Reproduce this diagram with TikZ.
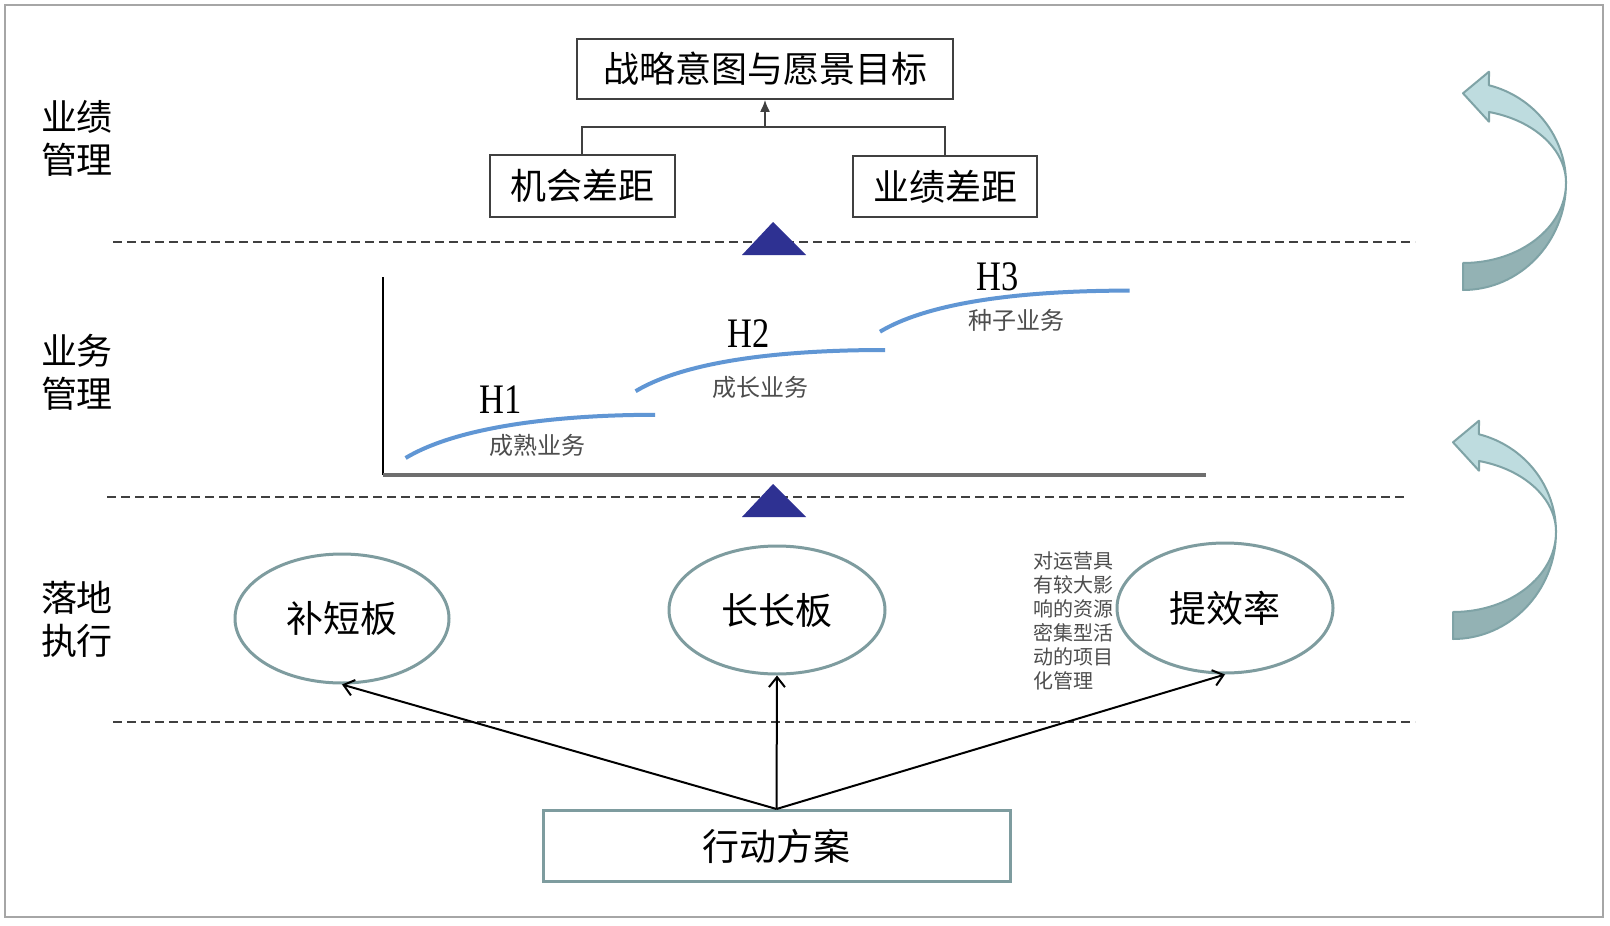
\documentclass[tikz,border=0pt]{standalone}
\usepackage{fontspec}
\setmainfont{Noto Sans CJK SC}
\newfontfamily\hfont[FakeStretch=0.82]{Liberation Serif}
\usetikzlibrary{shapes.geometric,arrows.meta}
\definecolor{framegray}{HTML}{A6A6A6}
\definecolor{ovalc}{HTML}{7E9C9F}
\definecolor{navytri}{HTML}{2E3192}
\definecolor{curveblue}{HTML}{6096D4}
\definecolor{lightarr}{HTML}{BEDCDF}
\definecolor{darkarr}{HTML}{93B2B4}
\definecolor{arrline}{HTML}{7FA3A6}
\definecolor{subgray}{HTML}{4D4D4D}
\definecolor{boxline}{HTML}{404040}
\definecolor{axisgray}{HTML}{6E6E6E}
\tikzset{
  bendarrow/.pic={
    \filldraw[fill=darkarr, draw=arrline, line width=2pt, line join=round]
      (0,107) arc[start angle=-90, end angle=0, x radius=103pt, y radius=107pt]
      arc[start angle=0, end angle=-90, x radius=103pt, y radius=80pt] -- cycle;
    \filldraw[fill=lightarr, draw=arrline, line width=2pt, line join=round]
      (103,0) arc[start angle=0, end angle=75.4, x radius=103pt, y radius=101pt]
      -- (26,-111.3) -- (0,-89.7) -- (26,-61.3) -- (26,-71)
      arc[start angle=75.4, end angle=0, x radius=103pt, y radius=73.4pt] -- cycle;
  }
}
\begin{document}
\begin{tikzpicture}[x=1pt,y=-1pt,
  gapbox/.style={draw=boxline, line width=2pt, inner sep=0pt, fill=white,
    font=\fontsize{36}{40}\selectfont},
  oval/.style={ellipse, draw=ovalc, line width=3pt, inner sep=0pt, fill=white,
    font=\fontsize{37}{40}\selectfont},
  actbox/.style={draw=ovalc, line width=3pt, inner sep=0pt, fill=white,
    font=\fontsize{37}{40}\selectfont},
  sidelabel/.style={align=center, font=\fontsize{36}{43}\selectfont},
  hlabel/.style={font=\hfont\fontsize{42}{44}\selectfont, inner sep=0pt},
  sublabel/.style={text=subgray, font=\fontsize{24}{26}\selectfont, inner sep=0pt},
  sepline/.style={draw=boxline, line width=2pt, dash pattern=on 9pt off 5pt},
  growth/.style={draw=curveblue, line width=4pt},
  tri/.style={fill=navytri},
  link/.style={draw=black, line width=2pt, -{Straight Barb[length=10pt,width=16pt,line width=2pt]}}
]
\useasboundingbox (0,0) rectangle (1610,926);
\fill[white] (0,0) rectangle (1610,926);
\draw[framegray, line width=2.5pt] (5,5) rectangle (1603,917);

% dashed separators
\draw[sepline] (113,242) -- (1415,242);
\draw[sepline] (107,497) -- (1407,497);
\draw[sepline] (113,722) -- (1415,722);

% left labels
\node[sidelabel] (l1) at (77,138.5) {业绩\\管理};
\node[sidelabel] (l2) at (77,372) {业务\\管理};
\node[sidelabel] (l3) at (77,619) {落地\\执行};

% top section
\node[gapbox, minimum width=376pt, minimum height=60pt] (goal) at (765,68.8) {战略意图与愿景目标};
\node[gapbox, minimum width=184.6pt, minimum height=61.7pt] (gap1) at (582.3,186) {机会差距};
\node[gapbox, minimum width=184pt, minimum height=60.7pt] (gap2) at (945,186.4) {业绩差距};
\coordinate (j) at (765,127);
\draw[boxline, line width=2pt] (gap1.north) |- (j) -| (gap2.north);
\draw[boxline, line width=2pt, -{Latex[length=12pt,width=10pt]}] (j) -- (goal.south);

% triangles
\fill[tri] (773,222) -- (806,255) -- (742,255) -- cycle;
\fill[tri] (773,484) -- (806,517) -- (742,517) -- cycle;

% axes
\draw[black, line width=2pt] (383,277) -- (383,475);
\draw[axisgray, line width=3.5pt] (383,475) -- (1206,475);

% growth curves
\draw[growth] (405.6,458) .. controls (460.6,425) and (565,414.8) .. (655,414.8);
\draw[growth] (635.6,391.2) .. controls (690.6,358.2) and (795,350) .. (885,350);
\draw[growth] (880,331.7) .. controls (935,298.7) and (1039.5,290.6) .. (1129.5,290.6);
\node[hlabel] (h1) at (501,400) {H1};
\node[hlabel] (h2) at (749,334) {H2};
\node[hlabel] (h3) at (998,277) {H3};
\node[sublabel] (s1) at (537,445) {成熟业务};
\node[sublabel] (s2) at (760,387) {成长业务};
\node[sublabel] (s3) at (1016.5,320) {种子业务};

% bottom section
\node[oval, minimum width=214pt, minimum height=129pt] (e1) at (342,618.5) {补短板};
\node[oval, minimum width=216pt, minimum height=128pt] (e2) at (777,610) {长长板};
\node[oval, minimum width=216pt, minimum height=130pt] (e3) at (1225,608) {提效率};
\node[text=subgray, align=left, inner sep=0pt, font=\fontsize{20}{24}\selectfont] (note) at (1073,621)
  {对运营具\\有较大影\\响的资源\\密集型活\\动的项目\\化管理};
\node[actbox, minimum width=467pt, minimum height=71pt] (act) at (776.5,846) {行动方案};
\draw[link] (act.north) -- (e1.south);
\draw[link] (act.north) -- (e2.south);
\draw[link] (act.north) -- (e3.south);

% curved arrows
\pic at (1463,183) {bendarrow};
\pic at (1453,532) {bendarrow};
\end{tikzpicture}
\end{document}
